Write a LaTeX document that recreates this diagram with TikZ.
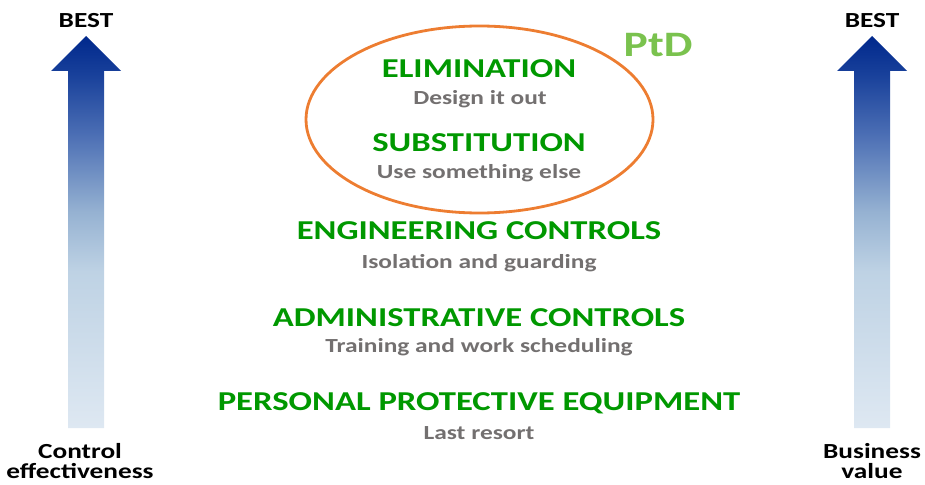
\documentclass[tikz,border=0pt]{standalone}
\usepackage{fontspec}
\setmainfont{Carlito}[FakeStretch=1.27]
\definecolor{tgreen}{RGB}{0,152,0}
\definecolor{tgrey}{RGB}{115,112,112}
\definecolor{ptdgreen}{RGB}{122,194,78}
\definecolor{orng}{RGB}{237,125,49}
\pgfdeclareverticalshading{arrowshade}{100bp}{%
  color(0bp)=(rgb,255:red,222;green,232;blue,242);
  color(25bp)=(rgb,255:red,222;green,232;blue,242);
  color(45bp)=(rgb,255:red,190;green,210;blue,228);
  color(52.5bp)=(rgb,255:red,150;green,178;blue,210);
  color(62.5bp)=(rgb,255:red,75;green,110;blue,180);
  color(70bp)=(rgb,255:red,25;green,65;blue,155);
  color(75bp)=(rgb,255:red,0;green,40;blue,140);
  color(100bp)=(rgb,255:red,0;green,40;blue,140)}
\tikzset{
  title/.style={text=tgreen,font=\bfseries\fontsize{27.3}{30}\selectfont,inner sep=0pt},
  sub/.style={text=tgrey,font=\bfseries\fontsize{20}{24}\selectfont,inner sep=0pt},
  lbl/.style={text=black,font=\bfseries\fontsize{21.5}{22}\selectfont,inner sep=0pt,align=center}
}
\begin{document}
\begin{tikzpicture}[x=1pt,y=-1pt]
\useasboundingbox (0,0) rectangle (925,484);
% arrows
\shade[shading=arrowshade] (68,428) -- (68,71) -- (51,71) -- (86,36) -- (121,71) -- (104,71) -- (104,428) -- cycle;
\shade[shading=arrowshade] (854,428) -- (854,71) -- (837,71) -- (872,36) -- (907,71) -- (890,71) -- (890,428) -- cycle;
\node[lbl] (best1) at (86,21) {BEST};
\node[lbl] (best2) at (872,21) {BEST};
\node[lbl] (ce) at (80,461) {Control\\[-2pt]effectiveness};
\node[lbl] (bv) at (872,461) {Business\\[-2pt]value};
% ellipse
\draw[orng,line width=2.8pt] (479.5,119.5) ellipse [x radius=173.5, y radius=93.5];
\node[text=ptdgreen,font=\bfseries\fontsize{35.8}{40}\selectfont,inner sep=0pt] (ptd) at (658,45) {PtD};
\node[title] (elim) at (479,69) {ELIMINATION};
\node[sub] (elims) at (480,99) {Design it out};
\node[title] (subs) at (479,143) {SUBSTITUTION};
\node[sub] (subss) at (479,173) {Use something else};
\node[title] (eng) at (479,231) {ENGINEERING CONTROLS};
\node[sub] (engs) at (479,263) {Isolation and guarding};
\node[title] (adm) at (479,318) {ADMINISTRATIVE CONTROLS};
\node[sub] (adms) at (479,347) {Training and work scheduling};
\node[title] (ppe) at (479,403) {PERSONAL PROTECTIVE EQUIPMENT};
\node[sub] (ppes) at (479,433) {Last resort};
\end{tikzpicture}
\end{document}
